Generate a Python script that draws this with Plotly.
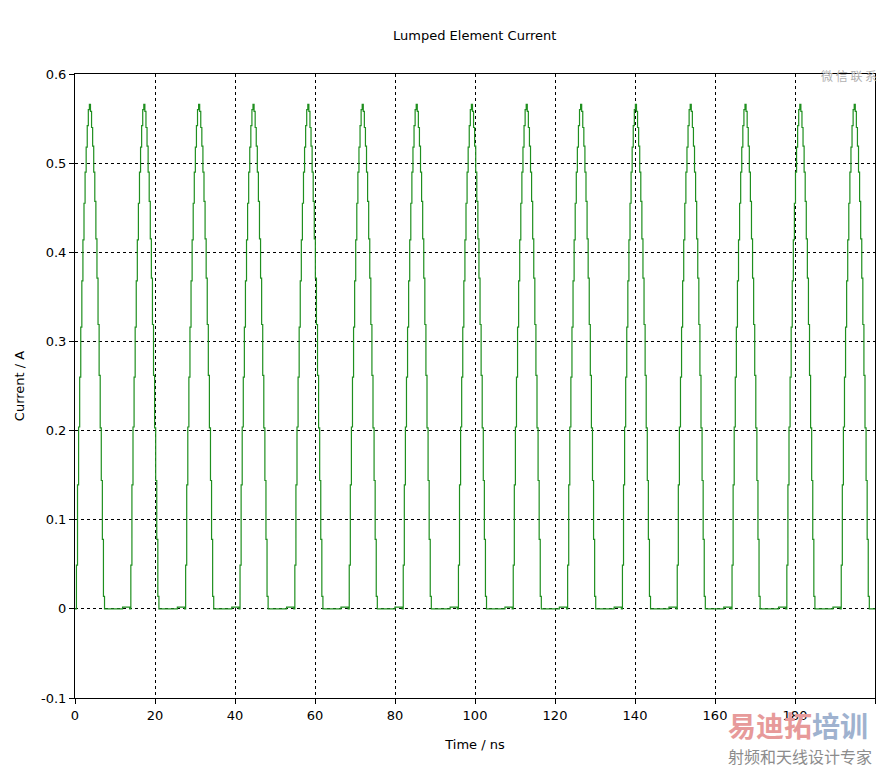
import plotly.graph_objects as go

# Peak times of each current pulse (ns)
PEAK_TIMES = [3.6, 17.2, 30.9, 44.5, 58.2, 71.8, 85.3, 99.1, 112.8, 126.4,
              140.1, 153.8, 167.5, 181.2, 194.8]
PULSE_VALUES = [0.0, 0.049, 0.139, 0.204, 0.26, 0.316, 0.368, 0.414, 0.455,
                0.49, 0.518, 0.542, 0.56, 0.566, 0.558, 0.54, 0.519, 0.49,
                0.457, 0.415, 0.371, 0.319, 0.262, 0.203, 0.144, 0.078,
                0.014, 0.0]
SAMPLE_STEP = 0.27   # ns between samples
PEAK_INDEX = 13
BASELINE_BUMP = 0.002  # small offset seen just before each rising edge

X_TICKS = [0, 20, 40, 60, 80, 100, 120, 140, 160, 180, 200]
Y_TICKS = [-0.1, 0, 0.1, 0.2, 0.3, 0.4, 0.5, 0.6]
Y_TICK_TEXT = ["-0.1", "0", "0.1", "0.2", "0.3", "0.4", "0.5", "0.6"]

t, i = [0.0], [0.0]
for p in PEAK_TIMES:
    start = p - PEAK_INDEX * SAMPLE_STEP
    if start - 1.8 > t[-1]:
        t.append(start - 1.8)
        i.append(BASELINE_BUMP)
    for k, v in enumerate(PULSE_VALUES):
        t.append(round(start + k * SAMPLE_STEP, 3))
        i.append(v)
t.append(200.0)
i.append(0.0)

fig = go.Figure()
fig.add_trace(go.Scatter(x=t, y=i, mode="lines", line_shape="hv",
                         line=dict(color="#1f8f1f", width=1.2),
                         showlegend=False, hoverinfo="skip"))

font = "DejaVu Sans, Verdana, sans-serif"
axis_common = dict(showline=True, linecolor="black", linewidth=1, mirror=True,
                   ticks="outside", ticklen=5, tickcolor="black",
                   showgrid=True, gridcolor="black", gridwidth=1,
                   griddash="3px,3px", zeroline=False,
                   tickfont=dict(family=font, size=13, color="black"))

fig.update_layout(
    width=879, height=761,
    margin=dict(l=66, r=11, t=66, b=71),
    paper_bgcolor="white", plot_bgcolor="white",
    title=dict(text="Lumped Element Current", x=0.531, xanchor="center",
               y=0.9645, yanchor="middle",
               font=dict(family=font, size=13, color="black")),
    xaxis=dict(range=[0, 200], tickvals=X_TICKS,
               title=dict(text="Time / ns", standoff=18,
                          font=dict(family=font, size=13, color="black")),
               **axis_common),
    yaxis=dict(range=[-0.1, 0.6], tickvals=Y_TICKS, ticktext=Y_TICK_TEXT,
               title=dict(text="Current / A", standoff=13,
                          font=dict(family=font, size=13, color="black")),
               **axis_common),
)

# watermark texts
fig.add_annotation(xref="paper", yref="paper", x=0.8155, y=-0.0435,
                   text="<b><span style='color:#e79a9a'>易迪拓</span>"
                        "<span style='color:#9fb2cf'>培训</span></b>",
                   showarrow=False, xanchor="left", yanchor="middle",
                   borderpad=0, font=dict(family="Noto Sans CJK SC", size=28))
fig.add_annotation(xref="paper", yref="paper", x=0.8155, y=-0.0935,
                   text="射频和天线设计专家", showarrow=False,
                   xanchor="left", yanchor="middle", borderpad=0,
                   font=dict(family="Noto Sans CJK SC", size=16, color="#8c8c8c"))
fig.add_annotation(xref="paper", yref="paper", x=0.9676, y=0.9968,
                   text="微 信 联 系", showarrow=False,
                   xanchor="center", yanchor="middle",
                   font=dict(family="Noto Sans CJK SC", size=12, color="#b0b0b0"))

fig.write_html("out.html")
